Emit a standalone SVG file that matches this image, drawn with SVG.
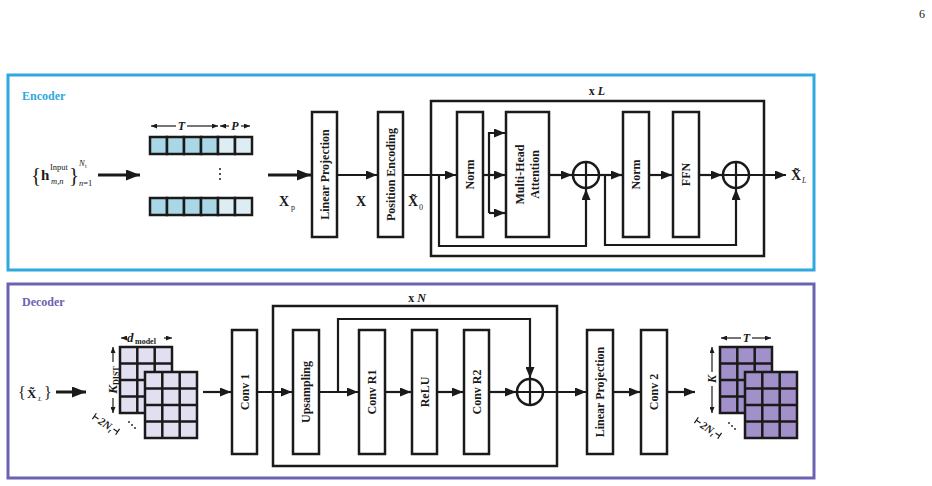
<svg xmlns="http://www.w3.org/2000/svg" width="932" height="486" viewBox="0 0 932 486">
<style>
.frame{fill:none;stroke-width:3}
.box{fill:#fff;stroke:#1a1a1a;stroke-width:2.5}
.loop{fill:none;stroke:#1a1a1a;stroke-width:2.5}
.ln{fill:none;stroke:#1a1a1a;stroke-width:2.2}
.big{fill:none;stroke:#1a1a1a;stroke-width:3}
.dim{fill:none;stroke:#1a1a1a;stroke-width:1.2}
.cell{stroke:#1a1a1a;stroke-width:2.5}
.lbl{font-family:"Liberation Serif",serif;font-weight:bold;font-size:12px;fill:#1a1a1a;text-anchor:middle;dominant-baseline:central}
.t{font-family:"Liberation Serif",serif;fill:#1a1a1a}
.b{font-weight:bold}
.i{font-style:italic}
</style>
<defs>
<marker id="ah" markerUnits="userSpaceOnUse" markerWidth="11" markerHeight="9" refX="11" refY="4.5" orient="auto"><path d="M0,0 L11,4.5 L0,9 z" fill="#1a1a1a"/></marker>
<marker id="ahb" markerUnits="userSpaceOnUse" markerWidth="14" markerHeight="11" refX="14" refY="5.5" orient="auto"><path d="M0,0 L14,5.5 L0,11 z" fill="#1a1a1a"/></marker>
<marker id="ahs" markerUnits="userSpaceOnUse" markerWidth="6" markerHeight="5" refX="6" refY="2.5" orient="auto"><path d="M0,0 L6,2.5 L0,5 z" fill="#1a1a1a"/></marker>
<g id="grid">
<rect x="0" y="0" width="52" height="66" class="cell"/>
<path d="M17.3,0 V66 M34.7,0 V66 M0,16.5 H52 M0,33 H52 M0,49.5 H52" class="cell" fill="none"/>
</g>
</defs>

<rect width="932" height="486" fill="#fff"/>
<text x="922" y="18" class="t" font-size="12" text-anchor="middle" fill="#1a1a1a">6</text>

<g id="encoder">
<rect x="8" y="75" width="806" height="195" class="frame" stroke="#2ea8df"/>
<text x="22" y="100" class="t b" font-size="12" style="fill:#2ea8df">Encoder</text>
</g>

<g id="enc-input">
<text x="31" y="182" class="t" font-size="21">{</text>
<text x="41" y="180" class="t b" font-size="15">h</text>
<text x="50" y="170" class="t" font-size="8.5">Input</text>
<text x="51" y="184" class="t i" font-size="8.5">m,n</text>
<text x="69" y="182" class="t" font-size="21">}</text>
<text x="79" y="166" class="t i" font-size="8.5">N</text><text x="85" y="168" class="t" font-size="6">t</text>
<text x="79" y="186" class="t" font-size="8.5"><tspan class="i">n</tspan>=1</text>
</g>

<g id="enc-patches">
<g fill="#a9d7e6">
<rect x="150" y="137" width="17" height="17" class="cell"/>
<rect x="167" y="137" width="17" height="17" class="cell"/>
<rect x="184" y="137" width="17" height="17" class="cell"/>
<rect x="201" y="137" width="17" height="17" class="cell"/>
<rect x="150" y="198" width="17" height="17" class="cell"/>
<rect x="167" y="198" width="17" height="17" class="cell"/>
<rect x="184" y="198" width="17" height="17" class="cell"/>
<rect x="201" y="198" width="17" height="17" class="cell"/>
</g>
<g fill="#dcedf4">
<rect x="218" y="137" width="17" height="17" class="cell"/>
<rect x="235" y="137" width="17" height="17" class="cell"/>
<rect x="218" y="198" width="17" height="17" class="cell"/>
<rect x="235" y="198" width="17" height="17" class="cell"/>
</g>
<circle cx="220" cy="169" r="1" fill="#1a1a1a"/><circle cx="220" cy="174" r="1" fill="#1a1a1a"/><circle cx="220" cy="179" r="1" fill="#1a1a1a"/>
<path d="M176,126 H151" class="dim" marker-end="url(#ahs)"/>
<path d="M187,126 H218" class="dim" marker-end="url(#ahs)"/>
<path d="M229,126 H220" class="dim" marker-end="url(#ahs)"/>
<path d="M241,126 H250" class="dim" marker-end="url(#ahs)"/>
<text x="181.5" y="130" class="t b i" font-size="12" text-anchor="middle">T</text>
<text x="235" y="130" class="t b i" font-size="12" text-anchor="middle">P</text>
</g>

<g id="lp1"><rect x="312" y="112" width="25" height="125" class="box"/><text class="lbl" transform="translate(324.5,174.5) rotate(-90)">Linear Projection</text></g>
<g id="pe"><rect x="378" y="112" width="25" height="125" class="box"/><text class="lbl" transform="translate(390.5,174.5) rotate(-90)">Position Encoding</text></g>
<g id="xL-block"><rect x="431" y="101" width="333" height="155" class="loop"/>
<text x="597" y="95" class="t b" font-size="12" text-anchor="middle">x <tspan class="i">L</tspan></text></g>
<g id="norm1"><rect x="457" y="112" width="26" height="125" class="box"/><text class="lbl" transform="translate(470,174.5) rotate(-90)">Norm</text></g>
<g id="mha"><rect x="506" y="112" width="43" height="125" class="box"/>
<text class="lbl" transform="translate(520,174.5) rotate(-90)">Multi-Head</text>
<text class="lbl" transform="translate(535,174.5) rotate(-90)">Attention</text></g>
<g id="add1"><circle cx="586" cy="175" r="13" class="box"/><path d="M573,175 H599 M586,162 V188" class="ln"/></g>
<g id="norm2"><rect x="623" y="112" width="26" height="125" class="box"/><text class="lbl" transform="translate(636,174.5) rotate(-90)">Norm</text></g>
<g id="ffn"><rect x="673" y="112" width="26" height="125" class="box"/><text class="lbl" transform="translate(686,174.5) rotate(-90)">FFN</text></g>
<g id="add2"><circle cx="736" cy="175" r="13" class="box"/><path d="M723,175 H749 M736,162 V188" class="ln"/></g>

<g id="enc-labels">
<text x="279" y="206" class="t b" font-size="14">X</text><text x="291" y="210" class="t" font-size="8">p</text>
<text x="356" y="206" class="t b" font-size="14">X</text>
<text x="408" y="206" class="t b" font-size="14">X&#x303;</text><text x="419" y="210" class="t" font-size="8">0</text>
<text x="791" y="180" class="t b" font-size="14">X&#x303;</text><text x="802" y="183" class="t i" font-size="8">L</text>
</g>

<g id="enc-connectors">
<path d="M98,175 H140" class="big" marker-end="url(#ahb)"/>
<path d="M268,175 H311" class="big" marker-end="url(#ahb)"/>
<path d="M337,175 H377" class="ln" marker-end="url(#ah)"/>
<path d="M403,175 H456" class="ln" marker-end="url(#ah)"/>
<path d="M439,175 V246 H586 V189" class="ln" marker-end="url(#ah)"/>
<path d="M483,175 H505" class="ln" marker-end="url(#ah)"/>
<path d="M489,213 V133 H505" class="ln" marker-end="url(#ah)"/>
<path d="M489,213 H505" class="ln" marker-end="url(#ah)"/>
<path d="M549,175 H572" class="ln" marker-end="url(#ah)"/>
<path d="M599,175 H622" class="ln" marker-end="url(#ah)"/>
<path d="M605,175 V245 H736 V189" class="ln" marker-end="url(#ah)"/>
<path d="M649,175 H672" class="ln" marker-end="url(#ah)"/>
<path d="M699,175 H722" class="ln" marker-end="url(#ah)"/>
<path d="M749,175 H786" class="ln" marker-end="url(#ah)"/>
</g>

<g id="decoder">
<rect x="8" y="284" width="806" height="194" class="frame" stroke="#6a62b2"/>
<text x="22" y="306" class="t b" font-size="12" style="fill:#6a62b2">Decoder</text>
</g>

<g id="dec-input">
<text x="18" y="398" class="t" font-size="16">{</text>
<text x="27" y="398" class="t b" font-size="13">X&#x303;</text><text x="38" y="401" class="t i" font-size="7">L</text>
<text x="44" y="398" class="t" font-size="16">}</text>
</g>

<g id="dec-matrix-in" fill="#e2e0f0">
<use href="#grid" x="120" y="347"/>
<use href="#grid" x="145" y="372"/>
<path d="M126,338 H121" class="dim" marker-end="url(#ahs)"/>
<path d="M164,338 H172" class="dim" marker-end="url(#ahs)"/>
<text x="127" y="342" class="t b i" font-size="13">d</text><text x="135" y="344" class="t b" font-size="8">model</text>
<path d="M113,362 V347" class="dim" marker-end="url(#ahs)"/>
<path d="M113,398 V413" class="dim" marker-end="url(#ahs)"/>
<text transform="translate(117,380) rotate(-90)" class="t b" font-size="13" text-anchor="middle"><tspan class="i">K</tspan><tspan font-size="8" dy="2">DIST</tspan></text>
<g transform="translate(106,424) rotate(34)">
<path d="M-14,-3.5 V3.5 M-14,0 H-9 M14,-3.5 V3.5 M14,0 H9" class="dim"/>
<text x="0" y="4" class="t b i" font-size="11" text-anchor="middle">2N<tspan font-size="7" dy="2">t</tspan></text>
</g>
<circle cx="129" cy="422" r="0.9" fill="#1a1a1a"/><circle cx="132" cy="425" r="0.9" fill="#1a1a1a"/><circle cx="135" cy="428" r="0.9" fill="#1a1a1a"/>
</g>

<g id="conv1"><rect x="232" y="330" width="25" height="124" class="box"/><text class="lbl" transform="translate(244.5,392) rotate(-90)">Conv 1</text></g>
<g id="xN-block"><rect x="273" y="306" width="284" height="160" class="loop"/>
<text x="417" y="302" class="t b" font-size="12" text-anchor="middle">x <tspan class="i">N</tspan></text></g>
<g id="upsampling"><rect x="293" y="330" width="26" height="124" class="box"/><text class="lbl" transform="translate(306,392) rotate(-90)">Upsampling</text></g>
<g id="convr1"><rect x="359" y="330" width="26" height="124" class="box"/><text class="lbl" transform="translate(372,392) rotate(-90)">Conv R1</text></g>
<g id="relu"><rect x="412" y="330" width="25" height="124" class="box"/><text class="lbl" transform="translate(424.5,392) rotate(-90)">ReLU</text></g>
<g id="convr2"><rect x="464" y="330" width="25" height="124" class="box"/><text class="lbl" transform="translate(476.5,392) rotate(-90)">Conv R2</text></g>
<g id="add3"><circle cx="530" cy="392" r="13" class="box"/><path d="M517,392 H543 M530,379 V405" class="ln"/></g>
<g id="lp2"><rect x="587" y="330" width="26" height="124" class="box"/><text class="lbl" transform="translate(600,392) rotate(-90)">Linear Projection</text></g>
<g id="conv2"><rect x="641" y="330" width="26" height="124" class="box"/><text class="lbl" transform="translate(654,392) rotate(-90)">Conv 2</text></g>

<g id="dec-matrix-out" fill="#a190c9">
<use href="#grid" x="720" y="347"/>
<use href="#grid" x="745" y="372"/>
<path d="M741,338 H721" class="dim" marker-end="url(#ahs)"/>
<path d="M752,338 H771" class="dim" marker-end="url(#ahs)"/>
<text x="746.5" y="342" class="t b i" font-size="12" text-anchor="middle">T</text>
<path d="M712,372 V347" class="dim" marker-end="url(#ahs)"/>
<path d="M712,386 V413" class="dim" marker-end="url(#ahs)"/>
<text transform="translate(716,379) rotate(-90)" class="t b i" font-size="12" text-anchor="middle">K</text>
<g transform="translate(708,428) rotate(34)">
<path d="M-14,-3.5 V3.5 M-14,0 H-9 M14,-3.5 V3.5 M14,0 H9" class="dim"/>
<text x="0" y="4" class="t b i" font-size="11" text-anchor="middle">2N<tspan font-size="7" dy="2">t</tspan></text>
</g>
<circle cx="729" cy="423" r="0.9" fill="#1a1a1a"/><circle cx="732" cy="426" r="0.9" fill="#1a1a1a"/><circle cx="735" cy="429" r="0.9" fill="#1a1a1a"/>
</g>

<g id="dec-connectors">
<path d="M56,392 H86" class="big" marker-end="url(#ahb)"/>
<path d="M203,392 H231" class="ln" marker-end="url(#ah)"/>
<path d="M257,392 H292" class="ln" marker-end="url(#ah)"/>
<path d="M319,392 H358" class="ln" marker-end="url(#ah)"/>
<path d="M338,392 V319 H530 V378" class="ln" marker-end="url(#ah)"/>
<path d="M385,392 H411" class="ln" marker-end="url(#ah)"/>
<path d="M437,392 H463" class="ln" marker-end="url(#ah)"/>
<path d="M489,392 H516" class="ln" marker-end="url(#ah)"/>
<path d="M543,392 H586" class="ln" marker-end="url(#ah)"/>
<path d="M613,392 H640" class="ln" marker-end="url(#ah)"/>
<path d="M667,392 H695" class="ln" marker-end="url(#ah)"/>
</g>
</svg>
